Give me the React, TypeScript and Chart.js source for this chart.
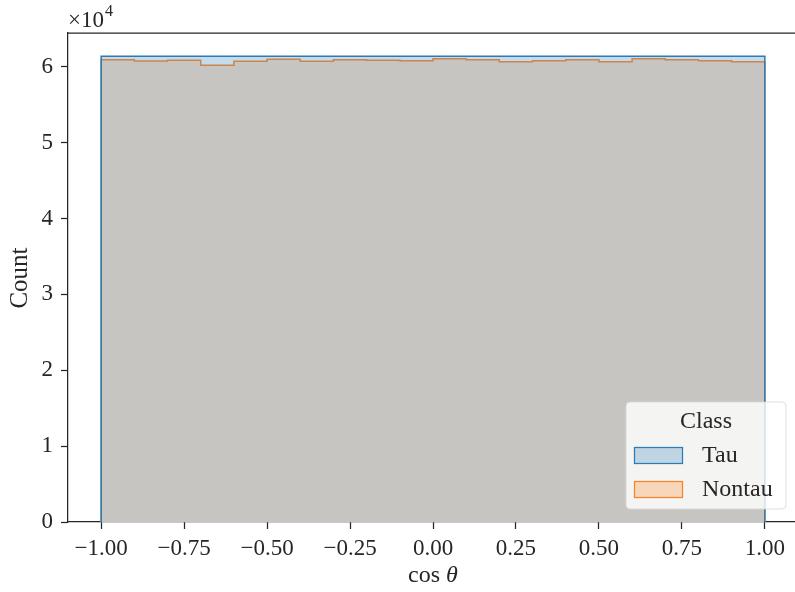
import React, { useEffect, useRef } from "react";
import { Chart, registerables } from "chart.js";

Chart.register(...registerables);

// Histogram bin edges for cos θ (20 bins of width 0.1)
const BIN_EDGES = [
  -1.0, -0.9, -0.8, -0.7, -0.6, -0.5, -0.4, -0.3, -0.2, -0.1, 0.0,
  0.1, 0.2, 0.3, 0.4, 0.5, 0.6, 0.7, 0.8, 0.9, 1.0,
];

// Counts per bin
const TAU_COUNTS = [
  61370, 61370, 61370, 61370, 61370, 61370, 61370, 61370, 61370, 61370,
  61370, 61370, 61370, 61370, 61370, 61370, 61370, 61370, 61370, 61370,
];
const NONTAU_COUNTS = [
  60920, 60750, 60840, 60180, 60710, 60970, 60710, 60920, 60840, 60790,
  61050, 60920, 60660, 60790, 60920, 60660, 61050, 60920, 60790, 60660,
];

const X_TICKS = [-1.0, -0.75, -0.5, -0.25, 0.0, 0.25, 0.5, 0.75, 1.0];
const Y_TICKS = [0, 10000, 20000, 30000, 40000, 50000, 60000];
const X_MIN = -1.1;
const X_MAX = 1.1;
const Y_MAX = 64440;

const CLASS_LABELS = ["Tau", "Nontau"];

const TEXT_COLOR = "#262626";
const FONT_FAMILY = "'Liberation Serif', 'DejaVu Serif', serif";

const W = 803;
const H = 592;

// Outline of a step histogram, closed down to zero at both ends
function stepPoints(edges: number[], counts: number[]) {
  const pts: { x: number; y: number }[] = [{ x: edges[0], y: 0 }];
  counts.forEach((c, i) => pts.push({ x: edges[i], y: c }));
  pts.push({ x: edges[edges.length - 1], y: counts[counts.length - 1] });
  pts.push({ x: edges[edges.length - 1], y: 0 });
  return pts;
}

const decorations = {
  id: "decorations",
  afterDraw(chart: any) {
    const { ctx, chartArea } = chart;
    const { left, right, top, bottom } = chartArea;
    ctx.save();

    // top and right spines
    ctx.strokeStyle = TEXT_COLOR;
    ctx.lineWidth = 1.25;
    ctx.beginPath();
    ctx.moveTo(left, top);
    ctx.lineTo(right, top);
    ctx.lineTo(right, bottom);
    ctx.stroke();

    ctx.fillStyle = TEXT_COLOR;

    // axis offset text ×10^4
    ctx.textBaseline = "alphabetic";
    ctx.textAlign = "left";
    ctx.font = `23px ${FONT_FAMILY}`;
    ctx.fillText("×10", 68, 27);
    const w10 = ctx.measureText("×10").width;
    ctx.font = `16px ${FONT_FAMILY}`;
    ctx.fillText("4", 68 + w10 + 1, 16);

    // y axis title
    ctx.save();
    ctx.translate(20, 278);
    ctx.rotate(-Math.PI / 2);
    ctx.textAlign = "center";
    ctx.textBaseline = "middle";
    ctx.font = `25px ${FONT_FAMILY}`;
    ctx.fillText("Count", 0, 0);
    ctx.restore();

    // x axis title: cos θ
    ctx.textBaseline = "middle";
    ctx.textAlign = "left";
    const a = "cos ";
    ctx.font = `24px ${FONT_FAMILY}`;
    const wa = ctx.measureText(a).width;
    ctx.font = `italic 24px ${FONT_FAMILY}`;
    const wb = ctx.measureText("θ").width;
    const x0 = left + (right - left) / 2 - (wa + wb) / 2;
    ctx.font = `24px ${FONT_FAMILY}`;
    ctx.fillText(a, x0, 576);
    ctx.font = `italic 24px ${FONT_FAMILY}`;
    ctx.fillText("θ", x0 + wa, 576);

    // legend
    const lx = 626, ly = 402, lw = 160, lh = 107, r = 4;
    ctx.beginPath();
    ctx.moveTo(lx + r, ly);
    ctx.lineTo(lx + lw - r, ly);
    ctx.quadraticCurveTo(lx + lw, ly, lx + lw, ly + r);
    ctx.lineTo(lx + lw, ly + lh - r);
    ctx.quadraticCurveTo(lx + lw, ly + lh, lx + lw - r, ly + lh);
    ctx.lineTo(lx + r, ly + lh);
    ctx.quadraticCurveTo(lx, ly + lh, lx, ly + lh - r);
    ctx.lineTo(lx, ly + r);
    ctx.quadraticCurveTo(lx, ly, lx + r, ly);
    ctx.closePath();
    ctx.fillStyle = "rgba(255,255,255,0.8)";
    ctx.fill();
    ctx.strokeStyle = "rgba(214,214,214,0.8)";
    ctx.lineWidth = 1;
    ctx.stroke();

    ctx.fillStyle = TEXT_COLOR;
    ctx.font = `24px ${FONT_FAMILY}`;
    ctx.textAlign = "center";
    ctx.textBaseline = "middle";
    ctx.fillText("Class", 706, 422);

    const patches = [
      { fill: "#c0d5e4", stroke: "#2a7bb6", y: 447 },
      { fill: "#f8d6b9", stroke: "#f9822a", y: 481 },
    ];
    patches.forEach((p, i) => {
      ctx.fillStyle = p.fill;
      ctx.fillRect(634.5, p.y + 0.5, 48, 16);
      ctx.strokeStyle = p.stroke;
      ctx.lineWidth = 1.25;
      ctx.strokeRect(634.5, p.y + 0.5, 48, 16);
      ctx.fillStyle = TEXT_COLOR;
      ctx.font = `24px ${FONT_FAMILY}`;
      ctx.textAlign = "left";
      ctx.textBaseline = "middle";
      ctx.fillText(CLASS_LABELS[i], 702, p.y + 9);
    });

    ctx.restore();
  },
};

export default function App() {
  const canvasRef = useRef<HTMLCanvasElement | null>(null);

  useEffect(() => {
    const canvas = canvasRef.current;
    if (!canvas) return;

    const tauPts = stepPoints(BIN_EDGES, TAU_COUNTS);
    const nontauPts = stepPoints(BIN_EDGES, NONTAU_COUNTS);

    const chart = new Chart(canvas, {
      type: "line",
      data: {
        datasets: [
          {
            // Tau outline, drawn last
            label: "Tau outline",
            data: tauPts,
            stepped: true,
            fill: false,
            borderColor: "#2a7bb6",
            borderWidth: 1.5,
            pointRadius: 0,
            order: 0,
          },
          {
            label: CLASS_LABELS[1],
            data: nontauPts,
            stepped: true,
            fill: "origin",
            backgroundColor: "#c6c5c1",
            borderColor: "#cf8448",
            borderWidth: 1.5,
            pointRadius: 0,
            order: 1,
          },
          {
            label: CLASS_LABELS[0],
            data: tauPts,
            stepped: true,
            fill: "origin",
            backgroundColor: "#c4dbeb",
            borderColor: "rgba(0,0,0,0)",
            borderWidth: 0,
            pointRadius: 0,
            order: 2,
          },
        ],
      },
      options: {
        responsive: false,
        animation: false,
        devicePixelRatio: 1,
        layout: { padding: { top: 33, right: 5, left: 0, bottom: 0 } },
        plugins: {
          legend: { display: false },
          tooltip: { enabled: false },
        },
        elements: { line: { tension: 0 } },
        scales: {
          x: {
            type: "linear",
            min: X_MIN,
            max: X_MAX,
            afterBuildTicks: (scale: any) => {
              scale.ticks = X_TICKS.map((v) => ({ value: v }));
            },
            afterFit: (scale: any) => {
              scale.height = 70;
            },
            grid: {
              drawOnChartArea: false,
              drawTicks: true,
              tickLength: 7,
              tickWidth: 1.25,
              tickColor: TEXT_COLOR,
            },
            border: { display: true, color: TEXT_COLOR, width: 1.25 },
            ticks: {
              autoSkip: false,
              maxRotation: 0,
              padding: 6,
              color: TEXT_COLOR,
              font: { family: FONT_FAMILY, size: 23 },
              callback: (v: any) => Number(v).toFixed(2).replace("-", "−"),
            },
          },
          y: {
            type: "linear",
            min: 0,
            max: Y_MAX,
            afterBuildTicks: (scale: any) => {
              scale.ticks = Y_TICKS.map((v) => ({ value: v }));
            },
            afterFit: (scale: any) => {
              scale.width = 68;
            },
            grid: {
              drawOnChartArea: false,
              drawTicks: true,
              tickLength: 7,
              tickWidth: 1.25,
              tickColor: TEXT_COLOR,
            },
            border: { display: true, color: TEXT_COLOR, width: 1.25 },
            ticks: {
              autoSkip: false,
              padding: 8,
              color: TEXT_COLOR,
              font: { family: FONT_FAMILY, size: 23 },
              callback: (v: any) => String(Math.round(Number(v) / 10000)),
            },
          },
        },
      },
      plugins: [decorations],
    });

    return () => chart.destroy();
  }, []);

  return (
    <div
      style={{
        position: "absolute",
        left: 0,
        top: 0,
        width: 795,
        height: H,
        overflow: "hidden",
        background: "#ffffff",
      }}
    >
      <canvas ref={canvasRef} width={W} height={H} style={{ display: "block" }} />
    </div>
  );
}
